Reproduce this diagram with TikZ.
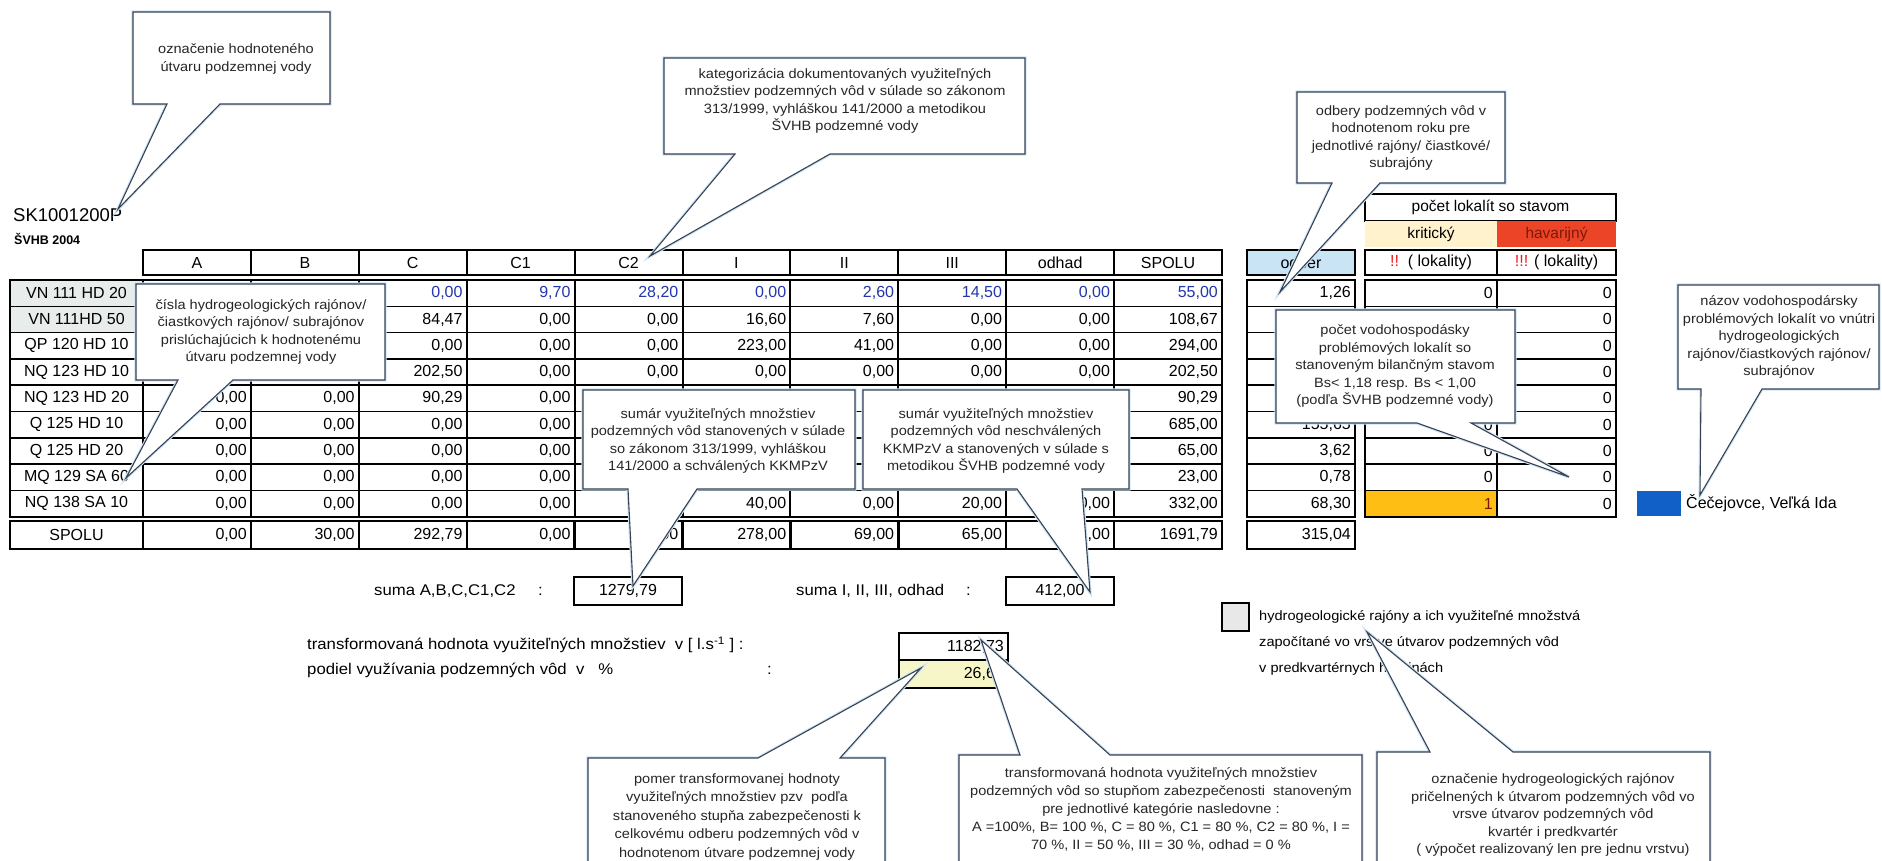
\documentclass[tikz,border=0pt]{standalone}
\usepackage{fontspec}
\setmainfont{Liberation Sans}
\newfontfamily\cf[FakeStretch=1.08]{Liberation Sans}
\definecolor{calline}{RGB}{55,65,85}
\definecolor{calglow}{RGB}{205,228,242}
\definecolor{lgray}{RGB}{232,236,234}
\definecolor{odblue}{RGB}{200,228,245}
\definecolor{kyellow}{RGB}{255,242,204}
\definecolor{hred}{RGB}{236,68,38}
\definecolor{hredtxt}{RGB}{125,25,10}
\definecolor{exred}{RGB}{230,30,30}
\definecolor{orng}{RGB}{255,190,20}
\definecolor{bluetxt}{RGB}{35,55,170}
\definecolor{pyellow}{RGB}{246,246,200}
\definecolor{legblue}{RGB}{16,96,200}
\newcommand\calB[8]{\draw[cal] (#1,#2) -- (#3,#2) -- (#3,#4) -- (#6,#4) -- (#7,#8) -- (#5,#4) -- (#1,#4) -- cycle;}
\newcommand\calT[8]{\draw[cal] (#1,#2) -- (#5,#2) -- (#7,#8) -- (#6,#2) -- (#3,#2) -- (#3,#4) -- (#1,#4) -- cycle;}
\newcommand\vrow[3]{\foreach \v [count=\k] in {#3} {\node[tbl,text=#2,anchor=east] (v#1-\k) at ({143+107.9*\k-4},{293.15+26.3*(#1-1)}) {\v};}}
\tikzset{
 tbl/.style={font=\fontsize{16}{19}\selectfont, inner sep=0pt},
 ctx/.style={font=\cf\fontsize{13.5}{17.5}\selectfont, align=center, inner sep=0pt, text=black!85},
 btx/.style={font=\cf\fontsize{15.5}{18}\selectfont, inner sep=0pt, anchor=west},
 cal/.style={draw=calline, fill=white, line width=1.1pt, line join=miter, preaction={draw=calglow, line width=3.2pt}},
 thk/.style={line width=2.4pt},
 hl/.style={line width=1.5pt},
 vl/.style={line width=2pt},
}
\begin{document}
\begin{tikzpicture}[x=1pt,y=-1pt]
\useasboundingbox (0,0) rectangle (1882,861);
\clip (0,0) rectangle (1882,861);
\fill[white] (0,0) rectangle (1882,861);

% titles
\node[anchor=west, font=\fontsize{18.5}{20}\selectfont, inner sep=0pt] (sk) at (13,215) {SK1001200P};
\node[anchor=west, font=\bfseries\fontsize{12.5}{14}\selectfont, inner sep=0pt] (svhb) at (14,239) {ŠVHB 2004};

% main table
\fill[lgray] (10,280) rectangle (143,332.6);
\foreach \h [count=\k] in {A,B,C,C1,C2,I,II,III,odhad,SPOLU}
  \node[tbl] (h\k) at ({143+107.9*(\k-0.5)},262.5) {\h};
\foreach \k in {1,...,9} \draw[vl] ({143+107.9*\k},250) -- ({143+107.9*\k},275);
\draw[thk] (143,250) rectangle (1222,275);
\foreach \i in {1,...,8} \draw[hl] (10,{280+26.3*\i}) -- (1222,{280+26.3*\i});
\foreach \k in {0,...,9} \draw[vl] ({143+107.9*\k},280) -- ({143+107.9*\k},516.7);
\draw[thk] (10,280) rectangle (1222,516.7);
\foreach \k in {0,...,9} \draw[thk] ({143+107.9*\k},521) -- ({143+107.9*\k},549);
\draw[thk] (10,521) rectangle (1222,549);

\foreach \lab [count=\i] in {VN 111 HD 20, VN 111HD 50, QP 120 HD 10, NQ 123 HD 10, NQ 123 HD 20, Q 125 HD 10, Q 125 HD 20, MQ 129 SA 60, NQ 138 SA 10}
  \node[tbl] (lab\i) at (76.5,{293.15+26.3*(\i-1)}) {\lab};
\node[tbl] (labS) at (76.5,535) {SPOLU};

\vrow{1}{bluetxt}{{},{},{0,00},{9,70},{28,20},{0,00},{2,60},{14,50},{0,00},{55,00}}
\vrow{2}{black}{{},{},{84,47},{0,00},{0,00},{16,60},{7,60},{0,00},{0,00},{108,67}}
\vrow{3}{black}{{},{},{0,00},{0,00},{0,00},{223,00},{41,00},{0,00},{0,00},{294,00}}
\vrow{4}{black}{{},{},{202,50},{0,00},{0,00},{0,00},{0,00},{0,00},{0,00},{202,50}}
\vrow{5}{black}{{0,00},{0,00},{90,29},{0,00},{},{},{},{},{},{90,29}}
\vrow{6}{black}{{0,00},{0,00},{0,00},{0,00},{},{},{},{},{},{685,00}}
\vrow{7}{black}{{0,00},{0,00},{0,00},{0,00},{},{},{},{},{},{65,00}}
\vrow{8}{black}{{0,00},{0,00},{0,00},{0,00},{},{},{},{},{},{23,00}}
\vrow{9}{black}{{0,00},{0,00},{0,00},{0,00},{},{40,00},{0,00},{20,00},{0,00},{332,00}}
\foreach \v [count=\k] in {{0,00},{30,00},{292,79},{0,00},{957,00},{278,00},{69,00},{65,00},{0,00},{1691,79}}
  \node[tbl,anchor=east] (vS-\k) at ({143+107.9*\k-4},535) {\v};

% odber column
\fill[odblue] (1247,250) rectangle (1355,275);
\draw[thk] (1247,250) rectangle (1355,275);
\node[tbl] (hodb) at (1301,262.5) {odber};
\foreach \i in {1,...,8} \draw[hl] (1247,{280+26.3*\i}) -- (1355,{280+26.3*\i});
\draw[thk] (1247,280) rectangle (1355,516.7);
\draw[thk] (1247,521) rectangle (1355,549);
\node[tbl,anchor=east] (o1) at (1351,293.15) {1,26};
\node[tbl,anchor=east] (o6) at (1351,424.65) {155,65};
\node[tbl,anchor=east] (o7) at (1351,450.95) {3,62};
\node[tbl,anchor=east] (o8) at (1351,477.25) {0,78};
\node[tbl,anchor=east] (o9) at (1351,503.55) {68,30};
\node[tbl,anchor=east] (oS) at (1351,535) {315,04};

% count table
\draw[line width=1.5pt] (1365,194) rectangle (1616,221);
\node[tbl,font=\fontsize{15.5}{18}\selectfont] (pl) at (1490.5,207.5) {počet lokalít so stavom};
\fill[kyellow] (1365,221) rectangle (1497,247);
\fill[hred] (1497,221) rectangle (1616,247);
\node[tbl,font=\fontsize{15.5}{18}\selectfont] (krit) at (1431,234) {kritický};
\node[tbl,font=\fontsize{15.5}{18}\selectfont,text=hredtxt] (hav) at (1556.5,234) {havarijný};
\draw[thk] (1365,250) rectangle (1616,275);
\draw[vl] (1497,250) -- (1497,275);
\node[tbl] (hk) at (1431,262.5) {\textcolor{exred}{!!}\ \ ( lokality)};
\node[tbl] (hh) at (1556.5,262.5) {\textcolor{exred}{!!!} ( lokality)};
\fill[orng] (1365,490.4) rectangle (1497,516.7);
\foreach \i in {1,...,8} \draw[hl] (1365,{280+26.3*\i}) -- (1616,{280+26.3*\i});
\draw[vl] (1497,280) -- (1497,516.7);
\draw[thk] (1365,280) rectangle (1616,516.7);
\foreach \i in {1,6,7,8} \node[tbl,anchor=east] (kr\i) at (1493,{293.15+26.3*(\i-1)}) {0};
\node[tbl,anchor=east,text=hredtxt] (kr9) at (1493,503.55) {1};
\foreach \i in {1,...,9} \node[tbl,anchor=east] (hv\i) at (1612,{293.15+26.3*(\i-1)}) {0};

% legend blue
\fill[legblue] (1637,491) rectangle (1681,516);
\node[tbl,anchor=west] (cece) at (1686,503.5) {Čečejovce, Veľká Ida};

% sums
\node[btx] (sumA) at (374,591) {suma A,B,C,C1,C2};
\node[btx] (colA) at (538,591) {:};
\draw[thk] (574,577) rectangle (682,605);
\node[tbl] (sumAv) at (628,591) {1279,79};
\node[btx] (sumI) at (796,591) {suma I, II, III, odhad};
\node[btx] (colI) at (966,591) {:};
\draw[thk] (1006,577) rectangle (1114,605);
\node[tbl] (sumIv) at (1060,591) {412,00};

\node[btx] (trf) at (307,645) {transformovaná hodnota využiteľných množstiev\ \ v [ l.s\textsuperscript{-1} ] :};
\node[btx] (pod) at (307,670) {podiel využívania podzemných vôd\ \ v\ \ \ \%};
\node[btx] (colp) at (767,670) {:};
\fill[pyellow] (899,660) rectangle (1008,688);
\draw[hl] (899,660) -- (1008,660);
\draw[thk] (899,633) rectangle (1008,688);
\node[tbl,anchor=east] (trfv) at (1004,646.5) {1182,73};
\node[tbl,anchor=east] (podv) at (1004,674) {26,64};

% legend gray
\draw[line width=1.5pt,fill=black!9] (1222,603) rectangle (1249,631);
\node[btx,font=\cf\fontsize{13.5}{16}\selectfont] (lg1) at (1259,617) {hydrogeologické rajóny a ich využiteľné množstvá};
\node[btx,font=\cf\fontsize{13.5}{16}\selectfont] (lg2) at (1259,643) {započítané vo vrstve útvarov podzemných vôd};
\node[btx,font=\cf\fontsize{13.5}{16}\selectfont] (lg3) at (1259,669) {v predkvartérnych horninách};

% callouts
\calB{133}{12}{330}{104}{167}{220}{118}{209}
\node[ctx] (t1) at (236,59) {označenie hodnoteného\\útvaru podzemnej vody};
\calB{664}{58}{1025}{154}{735}{830}{650}{256}
\node[ctx] (t2) at (845,101) {kategorizácia dokumentovaných využiteľných\\množstiev podzemných vôd v súlade so zákonom\\313/1999, vyhláškou 141/2000 a metodikou\\ŠVHB podzemné vody};
\calB{1297}{92}{1505}{183}{1332}{1380}{1280}{292}
\node[ctx] (t3) at (1401,138) {odbery podzemných vôd v\\hodnotenom roku pre\\jednotlivé rajóny/ čiastkové/\\subrajóny};
\calB{136}{284}{385}{380}{178}{233}{126}{478}
\node[ctx] (t4) at (261,332) {čísla hydrogeologických rajónov/\\čiastkových rajónov/ subrajónov\\prislúchajúcich k hodnotenému\\útvaru podzemnej vody};
\calB{583}{390}{855}{489}{628}{697}{633}{586}
\node[ctx] (t5) at (718,441) {sumár využiteľných množstiev\\podzemných vôd stanovených v súlade\\so zákonom 313/1999, vyhláškou\\141/2000 a schválených KKMPzV};
\calB{863}{390}{1129}{489}{1017}{1082}{1090}{592}
\node[ctx] (t6) at (996,441) {sumár využiteľných množstiev\\podzemných vôd neschválených\\KKMPzV a stanovených v súlade s\\metodikou ŠVHB podzemné vody};
\calB{1276}{310}{1515}{423}{1417}{1471}{1569}{477}
\node[ctx] (t7) at (1395,366) {počet vodohospodásky\\problémových lokalít so\\stanoveným bilančným stavom\\Bs< 1,18 resp. Bs < 1,00\\(podľa ŠVHB podzemné vody)};
\calB{1678}{285}{1879}{389}{1701}{1762}{1700}{495}
\node[ctx] (t8) at (1779,337) {názov vodohospodársky\\problémových lokalít vo vnútri\\hydrogeologických\\rajónov/čiastkových rajónov/\\subrajónov};
\calT{588}{758}{885}{880}{758}{840}{921}{668}
\node[ctx,font=\cf\fontsize{13.5}{18.5}\selectfont] (t9) at (737,817) {pomer transformovanej hodnoty\\využiteľných množstiev pzv\ \ podľa\\stanoveného stupňa zabezpečenosti k\\celkovému odberu podzemných vôd v\\hodnotenom útvare podzemnej vody};
\calT{959}{755}{1362}{880}{1020}{1110}{981}{640}
\node[ctx,font=\cf\fontsize{13.5}{18}\selectfont] (t10) at (1161,809) {transformovaná hodnota využiteľných množstiev\\podzemných vôd so stupňom zabezpečenosti\ \ stanoveným\\pre jednotlivé kategórie nasledovne :\\A =100\%, B= 100 \%, C = 80 \%, C1 = 80 \%, C2 = 80 \%, I =\\70 \%, II = 50 \%, III = 30 \%, odhad = 0 \%};
\calT{1377}{752}{1710}{880}{1430}{1513}{1367}{632}
\node[ctx] (t11) at (1553,815) {označenie hydrogeologických rajónov\\pričelnených k útvarom podzemných vôd vo\\vrsve útvarov podzemných vôd\\kvartér i predkvartér\\( výpočet realizovaný len pre jednu vrstvu)};
\end{tikzpicture}
\end{document}
